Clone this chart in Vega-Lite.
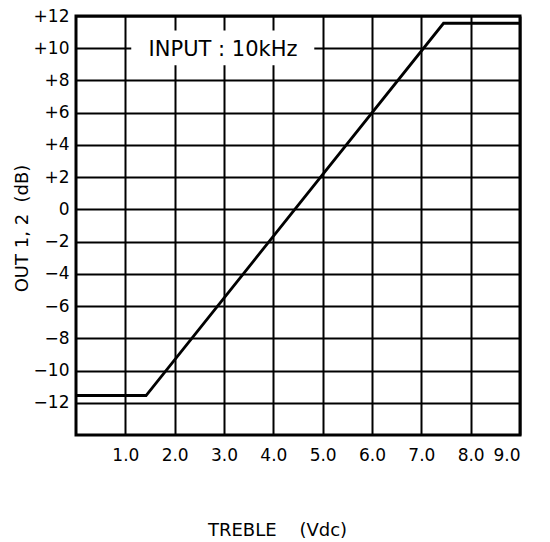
{
  "$schema": "https://vega.github.io/schema/vega-lite/v6.json",
  "autosize": "none",
  "width": 444,
  "height": 419,
  "padding": {"left": 76, "top": 16, "right": 30, "bottom": 107},
  "background": "white",
  "config": {
    "view": {"stroke": "black", "strokeWidth": 3},
    "font": "DejaVu Sans",
    "axis": {
      "domain": false,
      "ticks": false,
      "grid": true,
      "gridColor": "black",
      "gridWidth": 2,
      "gridOpacity": 1,
      "labelOverlap": false,
      "labelFont": "DejaVu Sans",
      "labelFontSize": 17,
      "labelColor": "black",
      "titleFont": "DejaVu Sans",
      "titleFontWeight": "normal",
      "titleColor": "black"
    }
  },
  "datasets": {
    "curve": [
      {"v": 0, "db": -11.55},
      {"v": 1.42, "db": -11.55},
      {"v": 7.45, "db": 11.55},
      {"v": 9, "db": 11.55}
    ],
    "note": [
      {"x1": 1.12, "x2": 4.83, "y1": 8.95, "y2": 11.1, "xc": 2.98, "yc": 9.9, "label": "INPUT : 10kHz"}
    ]
  },
  "layer": [
    {
      "data": {"name": "curve"},
      "mark": {"type": "line", "color": "black", "strokeWidth": 2.8, "clip": true},
      "encoding": {
        "x": {
          "field": "v", "type": "quantitative",
          "scale": {"domain": [0, 9], "nice": false, "zero": false},
          "axis": {
            "values": [1, 2, 3, 4, 5, 6, 7, 8, 9],
            "format": ".1f",
            "labelOverlap": false,
            "labelPadding": 12,
            "title": "TREBLE\u00a0\u00a0\u00a0\u00a0(Vdc)",
            "titleFontSize": 18,
            "titleX": 201,
            "titleY": 100,
            "titleAlign": "center",
            "titleBaseline": "alphabetic",
            "titleAnchor": null
          }
        },
        "y": {
          "field": "db", "type": "quantitative",
          "scale": {"domain": [-14, 12], "nice": false, "zero": false},
          "axis": {
            "values": [-12, -10, -8, -6, -4, -2, 0, 2, 4, 6, 8, 10, 12],
            "tickCount": 13,
            "labelOverlap": false,
            "labelExpr": "datum.value > 0 ? '+' + format(datum.value, 'd') : format(datum.value, 'd')",
            "labelPadding": 7,
            "title": "OUT 1, 2\u00a0\u00a0(dB)",
            "titleFontSize": 18,
            "titleAngle": -90,
            "titleX": -54,
            "titleY": 212,
            "titleAlign": "center",
            "titleBaseline": "middle",
            "titleAnchor": null
          }
        }
      }
    },
    {
      "data": {"name": "note"},
      "mark": {"type": "rect", "color": "white"},
      "encoding": {
        "x": {"field": "x1", "type": "quantitative"},
        "x2": {"field": "x2"},
        "y": {"field": "y1", "type": "quantitative"},
        "y2": {"field": "y2"}
      }
    },
    {
      "data": {"name": "note"},
      "mark": {"type": "text", "color": "black", "fontSize": 21, "font": "DejaVu Sans", "align": "center", "baseline": "middle"},
      "encoding": {
        "x": {"field": "xc", "type": "quantitative"},
        "y": {"field": "yc", "type": "quantitative"},
        "text": {"field": "label"}
      }
    }
  ]
}
